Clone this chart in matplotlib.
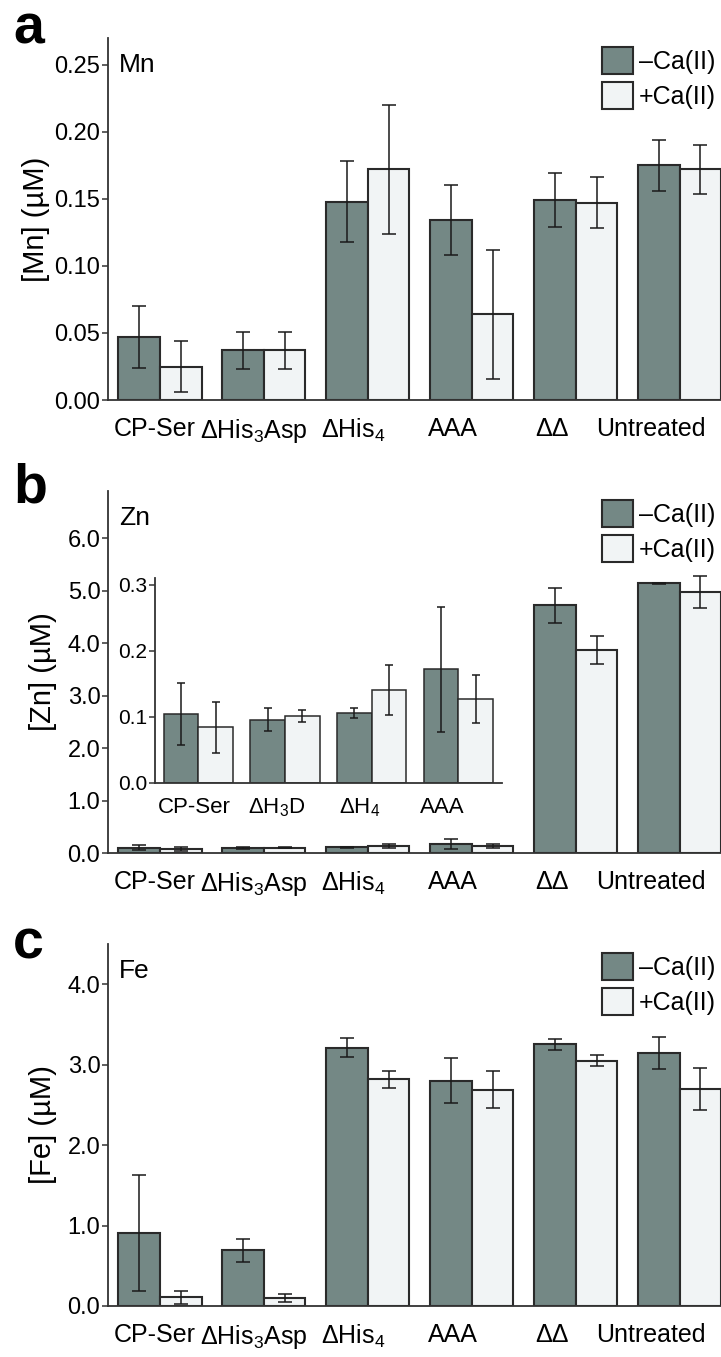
import numpy as np
import matplotlib
matplotlib.use("Agg")
import matplotlib.pyplot as plt
from matplotlib.patches import Patch

plt.rcParams["font.family"] = ["Liberation Sans", "DejaVu Sans"]
plt.rcParams["mathtext.fontset"] = "custom"
plt.rcParams["mathtext.rm"] = "Liberation Sans"
plt.rcParams["mathtext.it"] = "Liberation Sans:italic"
plt.rcParams["mathtext.bf"] = "Liberation Sans:bold"

# ---- data ----
groups = ["CP-Ser", "ΔHis$_3$Asp", "ΔHis$_4$", "AAA", "ΔΔ", "Untreated"]
inset_groups = ["CP-Ser", "ΔH$_3$D", "ΔH$_4$", "AAA"]

mn_minus = [0.047, 0.037, 0.148, 0.134, 0.149, 0.175]
mn_minus_err = [0.023, 0.014, 0.030, 0.026, 0.020, 0.019]
mn_plus = [0.025, 0.037, 0.172, 0.064, 0.147, 0.172]
mn_plus_err = [0.019, 0.014, 0.048, 0.048, 0.019, 0.018]

zn_minus = [0.105, 0.096, 0.106, 0.172, 4.72, 5.14]
zn_minus_err = [0.047, 0.017, 0.007, 0.095, 0.33, 0.01]
zn_plus = [0.084, 0.101, 0.141, 0.127, 3.87, 4.97]
zn_plus_err = [0.039, 0.009, 0.038, 0.037, 0.26, 0.30]

fe_minus = [0.91, 0.69, 3.21, 2.80, 3.25, 3.14]
fe_minus_err = [0.72, 0.14, 0.12, 0.28, 0.065, 0.20]
fe_plus = [0.11, 0.095, 2.815, 2.69, 3.05, 2.70]
fe_plus_err = [0.08, 0.05, 0.10, 0.23, 0.07, 0.26]

DARK = "#748885"
LIGHT = "#f1f4f5"
EDGE = "#2a2a2a"
W = 0.4


def draw_bars(ax, minus, minus_err, plus, plus_err, lw=1.5, cap=5):
    x = np.arange(len(minus))
    ekw = dict(ecolor="#1a1a1a", elinewidth=1.1, capsize=cap, capthick=1.1)
    ax.bar(x - W / 2, minus, W, yerr=minus_err, color=DARK, edgecolor=EDGE,
           linewidth=lw, error_kw=ekw, zorder=2)
    ax.bar(x + W / 2, plus, W, yerr=plus_err, color=LIGHT, edgecolor=EDGE,
           linewidth=lw, error_kw=ekw, zorder=2)


def style_axes(ax, labels, tick_fs=17, lab_fs=18, pad=12):
    n = len(labels)
    for s in ("top", "right"):
        ax.spines[s].set_visible(False)
    for s in ("left", "bottom"):
        ax.spines[s].set_color("#333333")
        ax.spines[s].set_linewidth(1.3)
    # tick labels sit slightly left of the bar pairs, as in the figure
    ax.set_xticks(np.arange(n) * 0.955 - 0.05)
    ax.set_xticklabels(labels, fontsize=lab_fs)
    ax.tick_params(axis="x", length=0, pad=pad)
    ax.tick_params(axis="y", direction="out", length=4, width=1.1, pad=1.5,
                   labelsize=tick_fs, color="#333333")


fig = plt.figure(figsize=(7.21, 13.57), dpi=100)

panels = [
    ("a", "Mn", "[Mn] (µM)", mn_minus, mn_minus_err, mn_plus, mn_plus_err,
     0.27, np.arange(0, 0.26, 0.05), "%.2f", 0.7052, -0.095),
    ("b", "Zn", "[Zn] (µM)", zn_minus, zn_minus_err, zn_plus, zn_plus_err,
     6.9, np.arange(0, 6.1, 1.0), "%.1f", 0.3714, -0.083),
    ("c", "Fe", "[Fe] (µM)", fe_minus, fe_minus_err, fe_plus, fe_plus_err,
     4.5, np.arange(0, 4.1, 1.0), "%.1f", 0.0376, -0.083),
]
letter_y = {"a": 0.968, "b": 0.630, "c": 0.294}

for letter, elem, ylab, m, me, p, pe, ytop, yt, fmt, bottom, ylx in panels:
    ax = fig.add_axes([0.1498, bottom, 0.852, 0.2668])
    draw_bars(ax, m, me, p, pe)
    style_axes(ax, groups)
    ax.set_xlim(-0.5, len(groups) - 1 + 0.41)
    ax.set_ylim(0, ytop)
    ax.set_yticks(yt)
    ax.yaxis.set_major_formatter(matplotlib.ticker.FormatStrFormatter(fmt))
    ax.set_ylabel(ylab, fontsize=21)
    ax.yaxis.set_label_coords(ylx, 0.5)
    ax.text(0.018, 0.925, elem, transform=ax.transAxes, fontsize=19,
            ha="left", va="center")
    handles = [Patch(facecolor=DARK, edgecolor=EDGE, linewidth=1.5),
               Patch(facecolor=LIGHT, edgecolor=EDGE, linewidth=1.5)]
    ax.legend(handles, ["–Ca(II)", "+Ca(II)"], loc="upper right",
              bbox_to_anchor=(0.99, 0.975), frameon=False, fontsize=18,
              handlelength=1.24, handleheight=1.28, handletextpad=0.25,
              labelspacing=0.32, borderpad=0, borderaxespad=0)
    fig.text(0.018, letter_y[letter], letter, fontsize=40, fontweight="bold",
             ha="left", va="baseline")

# ---- inset of panel b (small Zn values) ----
axi = fig.add_axes([0.215, 0.423, 0.481, 0.151])
axi.patch.set_alpha(0)
draw_bars(axi, zn_minus[:4], zn_minus_err[:4], zn_plus[:4], zn_plus_err[:4],
          lw=1.1, cap=3)
style_axes(axi, inset_groups, tick_fs=15, lab_fs=16, pad=10)
axi.set_xlim(-0.5, 3.5)
axi.set_ylim(0, 0.31)
axi.set_yticks([0.0, 0.1, 0.2, 0.3])
axi.yaxis.set_major_formatter(matplotlib.ticker.FormatStrFormatter("%.1f"))

fig.savefig("out.png", dpi=100)
